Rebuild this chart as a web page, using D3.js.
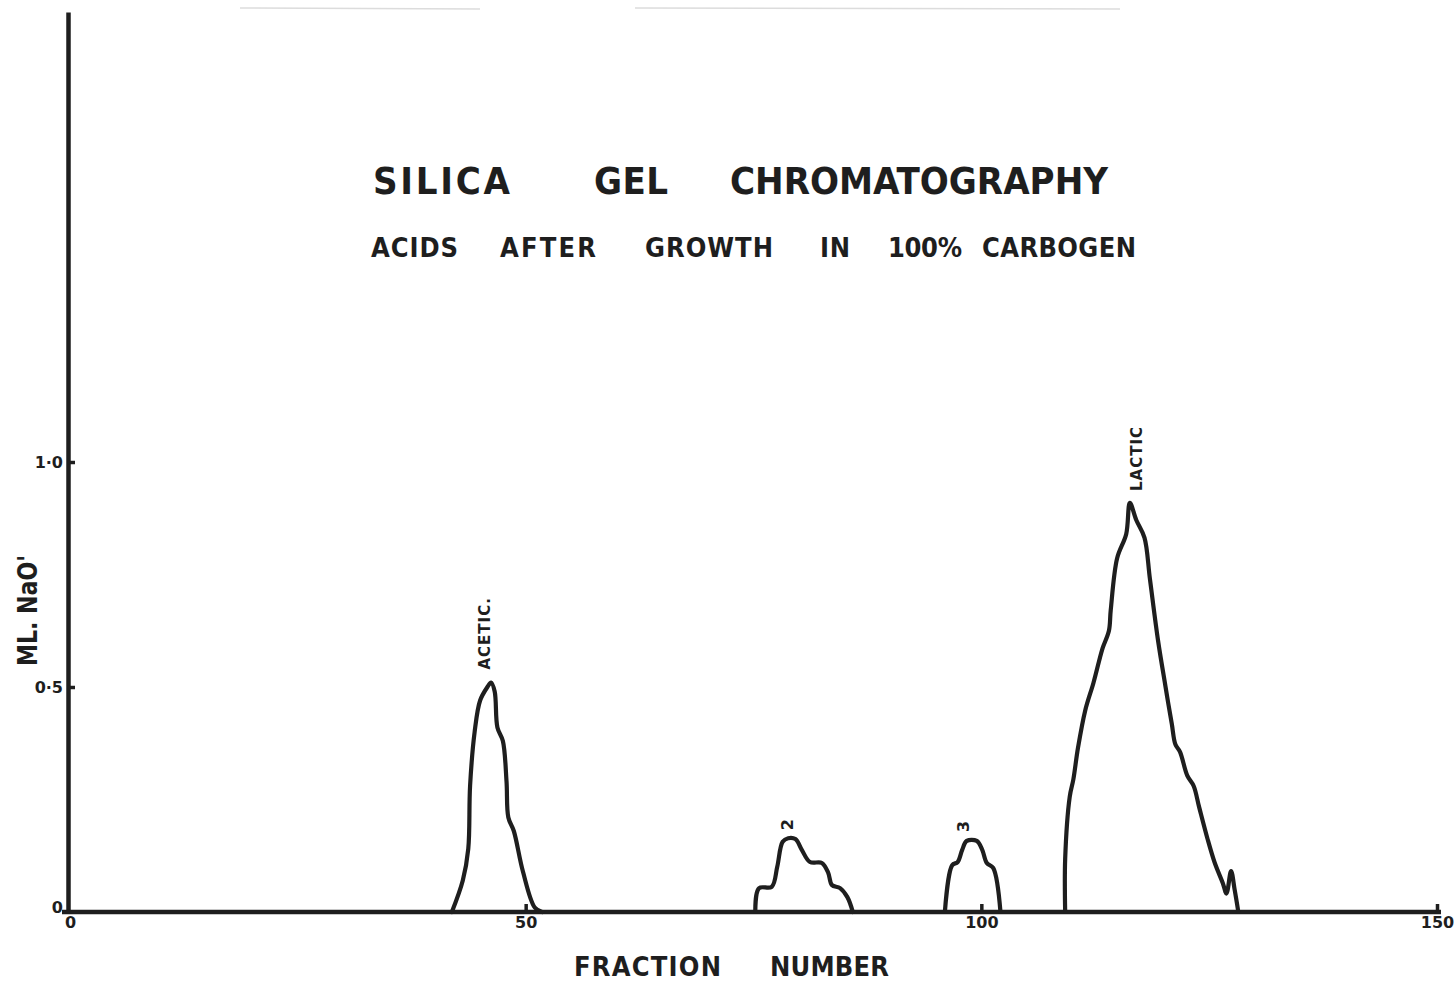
<!DOCTYPE html>
<html>
<head>
<meta charset="utf-8">
<script src="https://cdn.jsdelivr.net/npm/d3@7"></script>
<style>
  html, body { margin: 0; padding: 0; background: #fff; }
  svg { display: block; }
  text { fill: #1e1e1e; font-family: "DejaVu Sans", "Liberation Sans", sans-serif; }
  .lettering { font-family: "DejaVu Sans Condensed", "DejaVu Sans", sans-serif; font-stretch: condensed; }
</style>
</head>
<body>
<svg id="chart" width="1455" height="982"></svg>
<script>
// Eluate titrations, ml NaOH per fraction, for each acid peak
const aceticPeak = [
  [41.9, 0], [43.1, 0.07], [43.7, 0.14], [43.9, 0.28], [44.4, 0.40], [45.0, 0.47],
  [45.8, 0.50], [46.2, 0.51], [46.6, 0.49], [46.9, 0.41], [47.5, 0.38], [47.9, 0.29],
  [48.1, 0.21], [48.7, 0.18], [49.7, 0.09], [51.0, 0.01], [51.8, 0]
];
const peak2 = [
  [75.2, 0], [75.6, 0.053], [77.0, 0.056], [77.6, 0.10], [78.2, 0.156], [78.8, 0.164],
  [79.6, 0.162], [80.3, 0.138], [81.2, 0.111], [82.5, 0.109], [83.2, 0.087],
  [83.6, 0.060], [84.5, 0.053], [85.3, 0.033], [85.9, 0]
];
const peak3 = [
  [96.0, 0], [96.8, 0.104], [97.4, 0.111], [97.9, 0.138], [98.4, 0.158], [99.5, 0.158],
  [100.1, 0.138], [100.6, 0.109], [101.3, 0.098], [102.1, 0]
];
const lacticPeak = [
  [109.2, 0], [109.2, 0.118], [109.7, 0.256], [110.1, 0.295], [110.6, 0.364],
  [111.4, 0.448], [112.3, 0.509], [112.9, 0.556], [113.3, 0.586], [114.0, 0.625],
  [114.2, 0.671], [114.9, 0.786], [115.9, 0.840], [116.3, 0.909], [117.0, 0.871],
  [117.9, 0.832], [118.5, 0.740], [119.4, 0.602], [120.2, 0.502], [120.5, 0.465],
  [120.9, 0.418], [121.3, 0.372], [121.8, 0.356], [122.6, 0.303], [123.3, 0.280],
  [123.9, 0.233], [124.8, 0.164], [125.6, 0.110], [126.5, 0.064], [126.9, 0.041],
  [127.4, 0.091], [127.8, 0.049], [128.2, 0]
];
const peakNames = ["ACETIC.", "2", "3", "LACTIC"];

const xTickValues = [0, 50, 100, 150];
const xTickLabels = ["0", "50", "100", "150"];
const yTickValues = [0, 0.5, 1.0];
const yTickLabels = ["0", "0·5", "1·0"];

const titleWords = ["SILICA", "GEL", "CHROMATOGRAPHY"];
const subtitleWords = ["ACIDS", "AFTER", "GROWTH", "IN", "100%", "CARBOGEN"];
const xAxisWords = ["FRACTION", "NUMBER"];
const yAxisTitle = "ML. NaO'";

const svg = d3.select("#chart");
const ink = "#1e1e1e";

const x = d3.scaleLinear().domain([0, 150]).range([70, 1437]);
const y = d3.scaleLinear().domain([0, 2]).range([912, 12]);

// faint ruling at the very top of the sheet
svg.append("g").attr("stroke", "#dcdcdc").attr("stroke-width", 1.5)
  .selectAll("line").data([[240, 480], [635, 1120]]).join("line")
  .attr("x1", d => d[0]).attr("x2", d => d[1]).attr("y1", 8).attr("y2", 9);

// y axis
const yAxis = svg.append("g")
  .attr("transform", `translate(${x(0) - 2},0)`)
  .call(d3.axisLeft(y).tickValues(yTickValues)
    .tickFormat((d, i) => yTickLabels[i]).tickSize(-7).tickSizeOuter(0).tickPadding(5));
yAxis.select(".domain").attr("stroke", ink).attr("stroke-width", 4.5);
yAxis.selectAll(".tick line").attr("stroke", ink).attr("stroke-width", 3.5)
  .attr("display", d => d === 0 ? "none" : null);
yAxis.selectAll(".tick text").attr("font-size", 16).attr("font-weight", "bold")
  .attr("fill", ink).attr("dy", d => d === 0 ? "0.05em" : "0.32em");

// x axis
const xAxis = svg.append("g")
  .attr("transform", `translate(0,${y(0)})`)
  .call(d3.axisBottom(x).tickValues(xTickValues)
    .tickFormat((d, i) => xTickLabels[i]).tickSize(-8).tickSizeOuter(0).tickPadding(7));
xAxis.select(".domain").attr("stroke", ink).attr("stroke-width", 4.5)
  .attr("d", `M${x(0) - 8},0H${x(150) + 4}`);
xAxis.selectAll(".tick line").attr("stroke", ink).attr("stroke-width", 3.5)
  .attr("display", d => d === 0 ? "none" : null);
xAxis.selectAll(".tick text").attr("font-size", 16).attr("font-weight", "bold")
  .attr("fill", ink).attr("dy", "0.55em");

// elution curves
const line = d3.line().x(d => x(d[0])).y(d => y(d[1])).curve(d3.curveCatmullRom.alpha(0.5));
const peaks = [aceticPeak, peak2, peak3, lacticPeak];
svg.append("g").selectAll("path").data(peaks).join("path")
  .attr("d", line)
  .attr("fill", "none").attr("stroke", ink).attr("stroke-width", 4.2)
  .attr("stroke-linejoin", "round").attr("stroke-linecap", "round");

// peak labels, written upward above each maximum
const labelOffsets = [[-6, -13], [0, -8], [-2, -9], [8, -12]];
peaks.forEach((pk, i) => {
  const top = pk.reduce((a, b) => (b[1] > a[1] ? b : a));
  const px = x(top[0]) + labelOffsets[i][0];
  const py = y(top[1]) + labelOffsets[i][1];
  svg.append("text")
    .attr("transform", `translate(${px},${py}) rotate(-90)`)
    .attr("text-anchor", "start").attr("dominant-baseline", "middle")
    .attr("font-size", i === 1 || i === 2 ? 16 : 15).attr("font-weight", "bold")
    .attr("letter-spacing", 1)
    .text(peakNames[i]);
});

// title block
function wordRow(words, spans, baseline, size) {
  svg.append("g").selectAll("text").data(words).join("text")
    .attr("class", "lettering")
    .attr("x", (d, i) => spans[i][0]).attr("y", baseline)
    .attr("textLength", (d, i) => spans[i][1] - spans[i][0])
    .attr("lengthAdjust", "spacing")
    .attr("font-size", size).attr("font-weight", "bold")
    .text(d => d);
}
wordRow(titleWords, [[373, 510], [594, 668], [730, 1108]], 194, 38);
wordRow(subtitleWords, [[371, 458], [500, 596], [645, 773], [820, 850], [888, 962], [982, 1136]], 257, 27);

// axis titles
wordRow(xAxisWords, [[574, 721], [770, 889]], 976, 27);
svg.append("text")
  .attr("transform", `translate(37,${(555 + 666) / 2}) rotate(-90)`)
  .attr("text-anchor", "middle")
  .attr("textLength", 111).attr("lengthAdjust", "spacingAndGlyphs")
  .attr("font-size", 27).attr("font-weight", "bold")
  .text(yAxisTitle);
</script>
</body>
</html>
